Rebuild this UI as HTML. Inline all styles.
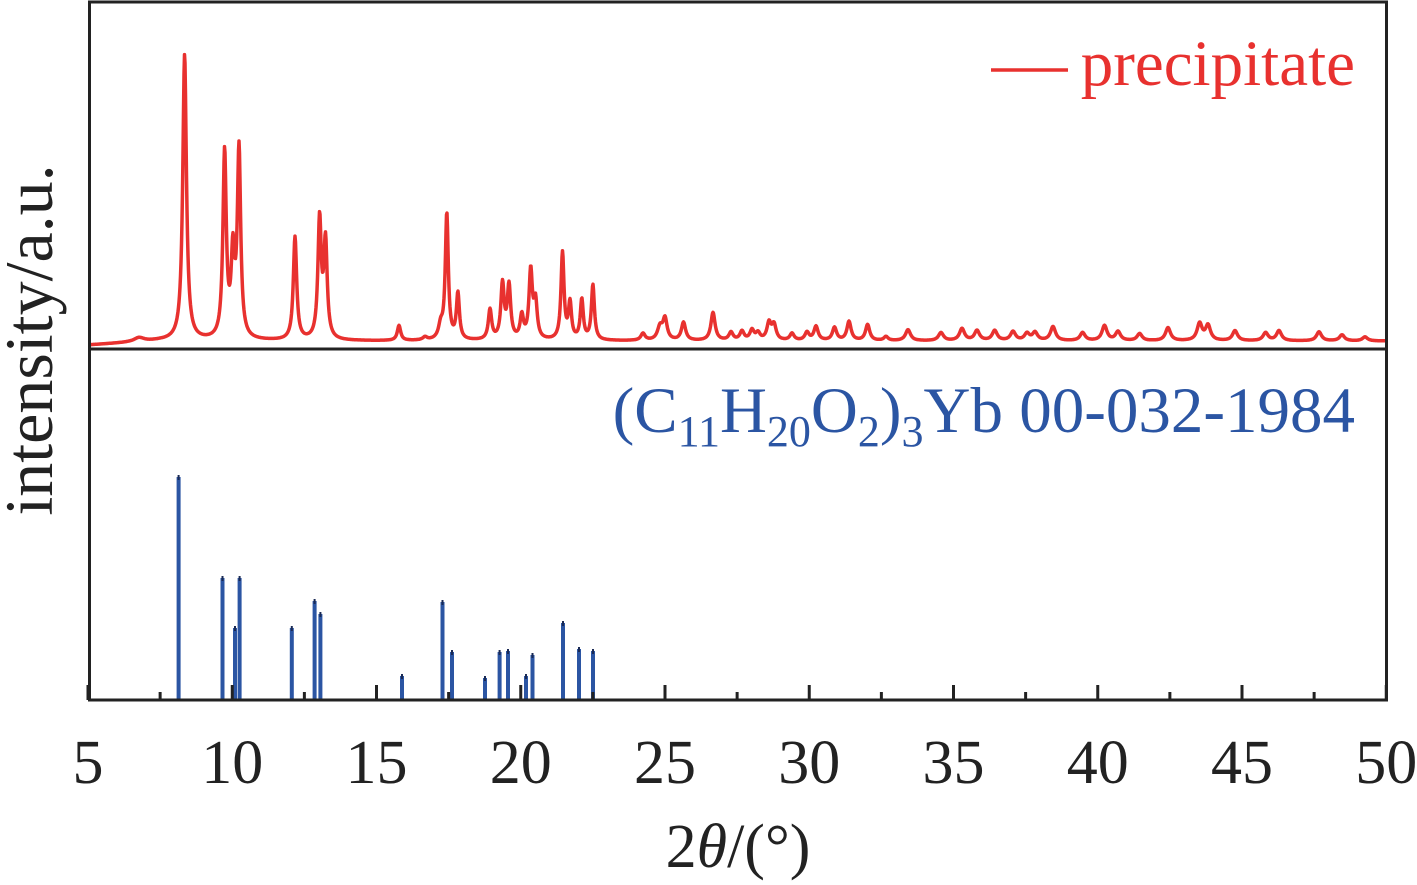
<!DOCTYPE html>
<html><head><meta charset="utf-8"><style>
html,body{margin:0;padding:0;background:#fff;}
svg{display:block;}
text{font-family:"Liberation Serif",serif;}
</style></head><body>
<svg id="s" width="1417" height="885" viewBox="0 0 1417 885" xmlns="http://www.w3.org/2000/svg">
<rect x="0" y="0" width="1417" height="885" fill="#fff"/>
<path id="curve" d="" fill="none" stroke="#e8312f" stroke-width="3.5" stroke-linejoin="round"/>
<g id="sticks" fill="#2b55a3"></g>
<g id="ticks" stroke="#222" stroke-width="3"></g>
<rect x="89.5" y="2" width="1297" height="698" fill="none" stroke="#222" stroke-width="3"/>
<line x1="89" y1="349" x2="1387" y2="349" stroke="#222" stroke-width="3"/>
<line x1="991" y1="70" x2="1068" y2="70" stroke="#e8312f" stroke-width="3.5"/>
<text x="1355" y="85" font-size="65" fill="#e8312f" text-anchor="end">precipitate</text>
<text x="1355" y="432" font-size="65" fill="#2b55a3" text-anchor="end">(C<tspan font-size="44" dy="14">11</tspan><tspan dy="-14">H</tspan><tspan font-size="44" dy="14">20</tspan><tspan dy="-14">O</tspan><tspan font-size="44" dy="14">2</tspan><tspan dy="-14">)</tspan><tspan font-size="44" dy="14">3</tspan><tspan dy="-14">Yb 00-032-1984</tspan></text>
<text transform="translate(52,340) rotate(-90)" font-size="68" fill="#222" text-anchor="middle">intensity/a.u.</text>
<g id="labels" font-size="62" fill="#222" text-anchor="middle"></g>
<text x="738" y="867" font-size="62" fill="#222" text-anchor="middle">2<tspan font-style="italic">θ</tspan>/(°)</text>
</svg>
<script>
var ns="http://www.w3.org/2000/svg";
function X(t){return 88+(t-5)*28.85;}
var tg=document.getElementById('ticks'),lg=document.getElementById('labels');
for(var t=5;t<=50;t+=2.5){var x=X(t);var maj=(t%5===0);
 var l=document.createElementNS(ns,'line');l.setAttribute('x1',x);l.setAttribute('x2',x);l.setAttribute('y1',700);l.setAttribute('y2',maj?685:692);tg.appendChild(l);
 if(maj){var tx=document.createElementNS(ns,'text');tx.setAttribute('x',x);tx.setAttribute('y',783);tx.textContent=t;lg.appendChild(tx);}}
var st=[[178.6,477],[222.5,578],[235,628],[239.6,578],[291.8,628],[314.6,601],[320.4,614],[402,676],[442.5,602],[452,652],[485,678],[499.6,652],[508,651],[526,676],[532.5,655],[563,623],[579,649],[593,651]];
var sg=document.getElementById('sticks');
st.forEach(function(s){var r=document.createElementNS(ns,'rect');r.setAttribute('x',s[0]-2);r.setAttribute('y',s[1]);r.setAttribute('width',4);r.setAttribute('height',700-s[1]);sg.appendChild(r);
 var c=document.createElementNS(ns,'rect');c.setAttribute('x',s[0]-1);c.setAttribute('y',s[1]-2);c.setAttribute('width',2);c.setAttribute('height',5);c.setAttribute('fill','#1a2a55');sg.appendChild(c);});
var base=341;
var pk=[[139,337,6],[184.6,55,2.2],[224.6,155,2],[232.9,262,2],[239,153,2],[295,238,2],[319.6,222,2],[325.5,245,2],[399,326,2],[425,338,2.5],[440.7,328,2.5],[446.8,215,1.8],[457.9,295,1.8],[490,311,2],[502.5,286,2],[509,288,2],[521.8,318,2],[530.7,273,2],[535.5,305,2],[562.5,254,1.8],[570,305,1.8],[581.8,301,1.8],[592.9,286,1.8],
[643,334,2.5],[660,328,3],[665,320,2.5],[683.5,323,2.5],[713,313,2.5],[731,333,2.5],[742,332,2.5],[752,331,2.5],[758,334,2.5],[769,324,2.5],[774,326,2.5],[792,334,2.5],[807,333,2.5],[816,327,2.5],[834.5,328,2.5],[849,322,2.5],[867.6,325,2.5],[886,337,2.5],[908,330,3],[941,333,3],[962,329,3],[977,331,3],[994.7,331,3],[1013,332,3],[1027,334,3],[1035,333,3],[1053,327,3],[1082.6,333,3],[1104.5,326,3],[1118,332,3],[1139.6,334,3],[1168,328,3],[1199.6,324,3],[1208,326,3],[1235,331,3],[1265.6,333,3],[1279,331,3],[1319,332,3],[1342,335,3],[1365,337,3]];
var d='';
for(var x=90;x<=1386;x+=0.5){
 var b=base+Math.max(0,(160-x)/70)*4;
 var y=b;
 pk.forEach(function(p){var h=base-p[1];var g=p[2];var u=(x-p[0])/g;y-=h/(1+u*u);});
 d+=(x===90?'M':'L')+x.toFixed(1)+','+Math.max(y,40).toFixed(1);
}
document.getElementById('curve').setAttribute('d',d);
</script>
</body></html>
